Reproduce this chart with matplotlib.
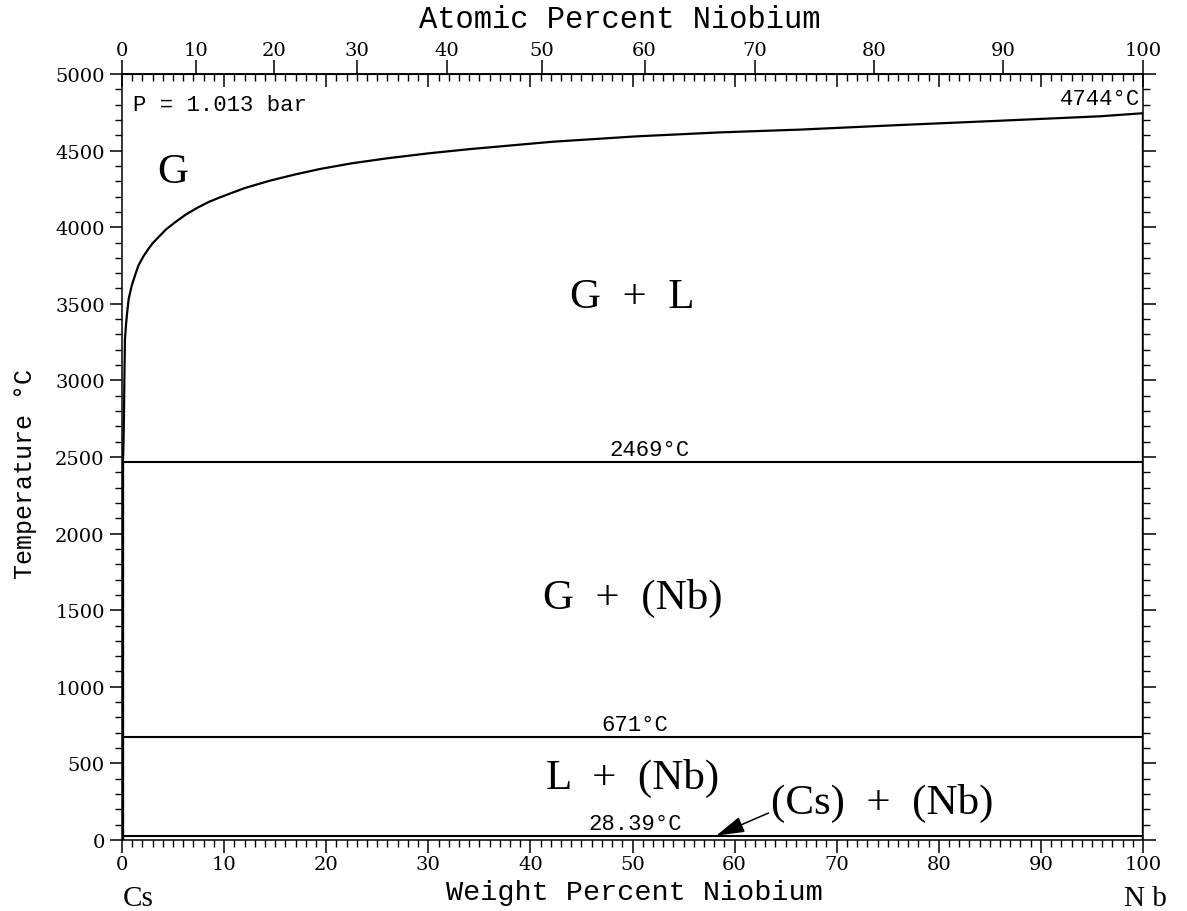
import numpy as np
import matplotlib
matplotlib.use("Agg")
import matplotlib.pyplot as plt
from matplotlib.ticker import MultipleLocator

# masas atomicas para la escala superior
M_CS = 132.905
M_NB = 92.906

# curva G / G+L (wt% Nb, T en C)
curva_wt = [0.0, 0.1, 0.15, 0.2, 0.23, 0.29, 0.4, 0.5, 0.65, 0.95, 1.3, 1.6, 2.1,
            2.58, 3.0, 3.56, 4.3, 5.2, 6.3, 7.47, 8.5, 9.6, 12.0, 14.5, 17.0, 19.4,
            22.5, 25.9, 30.0, 34.1, 42.2, 50.4, 58.6, 66.4, 76.2, 86.0, 95.8, 100.0]
curva_T = [2469, 2480, 2600, 2800, 3000, 3270, 3370, 3440, 3530, 3618, 3690, 3749,
           3810, 3858, 3895, 3934, 3985, 4032, 4085, 4130, 4165, 4195, 4255, 4304,
           4345, 4380, 4417, 4449, 4482, 4510, 4558, 4593, 4619, 4637, 4667, 4695,
           4724, 4744]

# isotermas
isotermas = [2469, 671, 28.39]
etiq_iso = ["2469°C", "671°C", "28.39°C"]
x_etiq_iso = [51.7, 50.2, 50.3]

T_fusion_nb = 4744

at_ticks = list(range(0, 101, 10))

fases = ["G", "G  +  L", "G  +  (Nb)", "L  +  (Nb)"]
fases_x = [5.0, 50.0, 50.0, 50.0]
fases_T = [4360, 3544, 1586, 411]


def wt2at(w):
    w = np.clip(np.asarray(w, dtype=float), 0, 100)
    a = w / M_NB
    b = (100 - w) / M_CS
    return 100 * a / (a + b)


def at2wt(a):
    a = np.clip(np.asarray(a, dtype=float), 0, 100)
    m = a * M_NB
    n = (100 - a) * M_CS
    return 100 * m / (m + n)


mono = ["Liberation Mono", "DejaVu Sans Mono"]
serif = ["Liberation Serif", "DejaVu Serif"]
num = ["DejaVu Serif"]

fig = plt.figure(figsize=(11.87, 9.12), dpi=100)
ax = fig.add_axes([122/1187, 1 - 841/912, (1143-122)/1187, (841-75)/912])

ax.plot(curva_wt, curva_T, color="black", lw=1.6)
for T in isotermas:
    ax.plot([0, 100], [T, T], color="black", lw=1.5)
ax.plot([0, 0], [0, 2469], color="black", lw=2.4)
ax.plot([100, 100], [0, T_fusion_nb], color="black", lw=2.4)

ax.set_xlim(0, 100)
ax.set_ylim(0, 5000)
for s in ax.spines.values():
    s.set_linewidth(1.1)

ax.xaxis.set_major_locator(MultipleLocator(10))
ax.xaxis.set_minor_locator(MultipleLocator(1))
ax.yaxis.set_major_locator(MultipleLocator(500))
ax.yaxis.set_minor_locator(MultipleLocator(100))
ax.tick_params(axis="x", which="both", direction="out", top=False, bottom=True, pad=2)
ax.tick_params(axis="y", which="both", direction="out", left=True, right=True)
ax.tick_params(which="major", length=9, width=1.1, labelsize=14)
ax.tick_params(which="minor", length=5, width=1.0)
for lab in ax.get_xticklabels() + ax.get_yticklabels():
    lab.set_family(num)

# escala superior en porcentaje atomico
sec = ax.secondary_xaxis("top", functions=(wt2at, at2wt))
sec.set_xticks(at_ticks)
sec.tick_params(direction="out", length=10, width=1.1, labelsize=14, pad=1)
for lab in sec.get_xticklabels():
    lab.set_family(num)
sec.spines["top"].set_linewidth(1.1)

# ticks interiores de wt% en el borde superior
sec2 = ax.secondary_xaxis("top")
sec2.xaxis.set_major_locator(MultipleLocator(10))
sec2.xaxis.set_minor_locator(MultipleLocator(1))
sec2.tick_params(which="both", direction="in", labeltop=False)
sec2.tick_params(which="major", length=9, width=1.1)
sec2.tick_params(which="minor", length=5, width=1.0)

fig.text(634/1187, 1 - 893/912, "Weight Percent Niobium", family=mono, fontsize=20.5,
         ha="center", va="center")
fig.text(620/1187, 1 - 20/912, "Atomic Percent Niobium", family=mono, fontsize=22,
         ha="center", va="center")
fig.text(25/1187, 1 - 474/912, "Temperature °C", family=mono, fontsize=18,
         ha="center", va="center", rotation=90)

fig.text(123/1187, 1 - 899/912, "Cs", family=serif, fontsize=21, va="center", ha="left")
fig.text(1167/1187, 1 - 899/912, "N b", family=serif, fontsize=21, va="center", ha="right")

ax.text(1.08, 4804, "P = 1.013 bar", family=mono, fontsize=16, va="center", ha="left")

for nombre, x, T in zip(fases, fases_x, fases_T):
    ax.text(x, T, nombre, family=serif, fontsize=31, ha="center", va="center")

for T, et, x in zip(isotermas, etiq_iso, x_etiq_iso):
    ax.text(x, T + 12, et, family=mono, fontsize=16, ha="center", va="bottom")
ax.text(99.7, T_fusion_nb + 25, "4744°C", family=mono, fontsize=16, ha="right", va="bottom")

ax.annotate("(Cs)  +  (Nb)", xy=(58.2, 28.39), xytext=(63.6, 248),
            family=serif, fontsize=31, ha="left", va="center",
            arrowprops=dict(arrowstyle="-|>,head_length=0.7,head_width=0.2",
                            color="black", lw=1.1, mutation_scale=25,
                            shrinkA=0, shrinkB=0, relpos=(0, 0.25)))

fig.savefig("out.png", dpi=100)
